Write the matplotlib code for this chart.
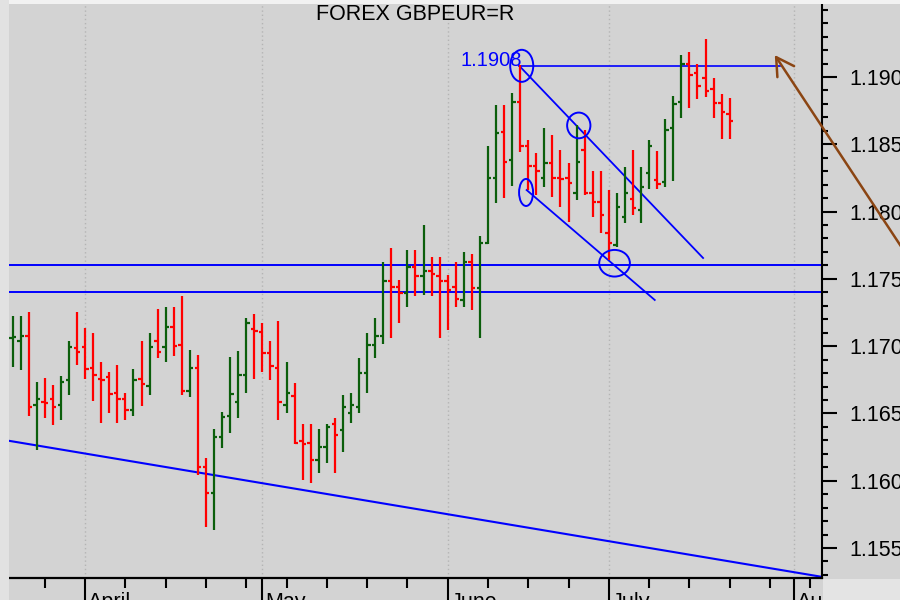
import numpy as np
import pandas as pd
import matplotlib
matplotlib.use('Agg')
import matplotlib.pyplot as plt
from matplotlib.patches import Ellipse, FancyArrowPatch, Rectangle, ArrowStyle
from matplotlib.transforms import Bbox, blended_transform_factory, ScaledTranslation

plt.rcParams['font.family'] = ['Liberation Sans', 'DejaVu Sans']

# ---------------- data ----------------
title = 'FOREX GBPEUR=R'
start_date = '2024-03-19'

opens = [1.17063, 1.17038, 1.17078, 1.16563, 1.16587, 1.16605, 1.16563, 1.16749, 1.16984, 1.16996,
         1.16840, 1.16758, 1.16773, 1.16654, 1.16605, 1.16526, 1.16758, 1.16706, 1.17038, 1.16996,
         1.17145, 1.17011, 1.16667, 1.16840, 1.16100, 1.15907, 1.16327, 1.16481, 1.16587, 1.16786,
         1.17128, 1.17108, 1.16947, 1.16840, 1.16563, 1.16630, 1.16298, 1.16283, 1.16154, 1.16249,
         1.16422, 1.16377, 1.16501, 1.16550, 1.16798, 1.17009, 1.17076, 1.17484, 1.17440, 1.17393,
         1.17590, 1.17521, 1.17561, 1.17521, 1.17486, 1.17442, 1.17343, 1.17628, 1.17430, 1.17764,
         1.18247, 1.18594, 1.18383, 1.18816, 1.18487, 1.18339, 1.18247, 1.18359, 1.18247, 1.18247,
         1.18136, 1.18458, 1.18140, 1.18073, 1.17839, 1.17752, 1.17962, 1.18091, 1.18012, 1.18289,
         1.18235, 1.18222, 1.18619, 1.18816, 1.19094, 1.19027, 1.18990, 1.18908, 1.18804, 1.18725]
highs = [1.17224, 1.17224, 1.17252, 1.16736, 1.16761, 1.16711, 1.16778, 1.17041, 1.17252, 1.17133,
         1.17096, 1.16882, 1.16808, 1.16858, 1.16650, 1.16828, 1.17041, 1.17096, 1.17278, 1.17289,
         1.17289, 1.17373, 1.16972, 1.16934, 1.16171, 1.16382, 1.16513, 1.16922, 1.16964, 1.17211,
         1.17239, 1.17174, 1.17041, 1.17187, 1.16882, 1.16724, 1.16422, 1.16422, 1.16382, 1.16422,
         1.16464, 1.16637, 1.16650, 1.16910, 1.17096, 1.17211, 1.17623, 1.17727, 1.17492, 1.17715,
         1.17715, 1.17900, 1.17660, 1.17660, 1.17529, 1.17623, 1.17697, 1.17685, 1.17819, 1.18487,
         1.18792, 1.18792, 1.18879, 1.19089, 1.18532, 1.18437, 1.18619, 1.18569, 1.18458, 1.18359,
         1.18643, 1.18606, 1.18304, 1.18304, 1.18160, 1.18136, 1.18333, 1.18458, 1.18333, 1.18532,
         1.18452, 1.18686, 1.18859, 1.19163, 1.19188, 1.19094, 1.19280, 1.18990, 1.18874, 1.18846]
lows = [1.16847, 1.16823, 1.16481, 1.16229, 1.16464, 1.16414, 1.16451, 1.16637, 1.16860, 1.16754,
        1.16595, 1.16427, 1.16506, 1.16427, 1.16451, 1.16481, 1.16555, 1.16637, 1.16914, 1.16885,
        1.16927, 1.16637, 1.16625, 1.16043, 1.15659, 1.15634, 1.16241, 1.16357, 1.16464, 1.16650,
        1.16754, 1.16810, 1.16749, 1.16451, 1.16506, 1.16273, 1.16006, 1.15981, 1.16055, 1.16134,
        1.16055, 1.16216, 1.16427, 1.16501, 1.16650, 1.16910, 1.17016, 1.17058, 1.17174, 1.17293,
        1.17373, 1.17380, 1.17373, 1.17058, 1.17120, 1.17293, 1.17293, 1.17269, 1.17058, 1.17760,
        1.18062, 1.18099, 1.18190, 1.18445, 1.18160, 1.18123, 1.18185, 1.18111, 1.18036, 1.17925,
        1.18086, 1.18123, 1.17962, 1.17839, 1.17640, 1.17739, 1.17913, 1.17975, 1.17913, 1.18166,
        1.18166, 1.18180, 1.18229, 1.18693, 1.18772, 1.18836, 1.18849, 1.18693, 1.18537, 1.18537]
closes = [1.17070, 1.17078, 1.16550, 1.16605, 1.16581, 1.16550, 1.16736, 1.16996, 1.16959, 1.16828,
          1.16786, 1.16749, 1.16642, 1.16605, 1.16526, 1.16749, 1.16719, 1.16996, 1.16959, 1.17145,
          1.17001, 1.16667, 1.16840, 1.16100, 1.15907, 1.16327, 1.16471, 1.16642, 1.16786, 1.17170,
          1.17115, 1.16947, 1.16853, 1.16587, 1.16654, 1.16283, 1.16273, 1.16154, 1.16249, 1.16402,
          1.16340, 1.16550, 1.16563, 1.16798, 1.17009, 1.17076, 1.17484, 1.17440, 1.17393, 1.17590,
          1.17521, 1.17561, 1.17536, 1.17486, 1.17417, 1.17353, 1.17628, 1.17430, 1.17764, 1.18247,
          1.18582, 1.18371, 1.18816, 1.18487, 1.18339, 1.18304, 1.18359, 1.18247, 1.18240, 1.18210,
          1.18371, 1.18140, 1.18073, 1.17975, 1.17764, 1.18036, 1.18136, 1.18024, 1.18185, 1.18487,
          1.18205, 1.18606, 1.18799, 1.19094, 1.19015, 1.18935, 1.18896, 1.18804, 1.18738, 1.18673]

month_labels = ['April', 'May', 'June', 'July', 'August']
month_starts = ['2024-04-01', '2024-05-01', '2024-06-01', '2024-07-01', '2024-08-01']
support_levels = [1.1760, 1.1740]
resistance_level = 1.1908
resistance_label = '1.1908'
trend_pts = [(0, 1.16292), (100, 1.15290)]
channel_upper = [(62.9, 1.19082), (85.7, 1.17655)]
channel_lower = [(63.8, 1.18160), (79.7, 1.17343)]
resistance_span = (62.9, 95.2)
# ellipses: (x center, y center, width in bars, height in price)
marks = [(63.19, 1.19083, 2.86, 0.00238),
         (70.27, 1.18640, 2.89, 0.00191),
         (63.73, 1.18142, 1.74, 0.00201),
         (74.71, 1.17616, 3.81, 0.00198)]
arrow_tip = (94.6, 1.19163)
arrow_tail = (117.6, 1.17076)
y_major = [1.155, 1.160, 1.165, 1.170, 1.175, 1.180, 1.185, 1.190]
y_minor = [round(1.153 + 0.001 * k, 3) for k in range(43)]

# ---------------- figure ----------------
GREEN = '#0b5e0b'
RED = '#ff0000'
BLUE = '#0000ff'
BG = '#d3d3d3'

fig = plt.figure(figsize=(9, 6), dpi=100, facecolor=BG)
fig.patches.append(Rectangle((0, 596 / 600), 1, 4 / 600, transform=fig.transFigure,
                             facecolor='#f2f2f2', edgecolor='none', zorder=0))
fig.patches.append(Rectangle((0, 0), 9 / 900, 1, transform=fig.transFigure,
                             facecolor='#e2e2e2', edgecolor='none', zorder=0))
fig.patches.append(Rectangle((823 / 900, 0), 77 / 900, 21 / 600, transform=fig.transFigure,
                             facecolor='#e4e4e4', edgecolor='none', zorder=0))

ax = fig.add_axes([9 / 900, 22 / 600, 813 / 900, 573 / 600])
ax.set_facecolor(BG)
ax.set_xlim(-0.45, 100.46)
ax.set_ylim(1.15277, 1.19535)

o = np.array(opens); h = np.array(highs); l = np.array(lows); c = np.array(closes)
n = len(o)
idx = np.arange(n)
cols = np.where(c >= o, GREEN, RED)

days = pd.bdate_range(start_date, periods=110)
month_pos = [int(np.searchsorted(days, pd.Timestamp(m))) for m in month_starts]
monday_pos = [i for i, d in enumerate(days) if d.dayofweek == 0 and i not in month_pos
              and i < 101]

# month grid
for p in month_pos:
    ax.axvline(p, color='#b4b4b4', ls=(0, (1, 2)), lw=1.0, zorder=1)

# lines
for lev in support_levels:
    ax.axhline(lev, color=BLUE, lw=1.4, zorder=2)
ax.axline(trend_pts[0], trend_pts[1], color=BLUE, lw=1.5, zorder=2)
ax.plot([resistance_span[0], resistance_span[1]], [resistance_level, resistance_level],
        color=BLUE, lw=1.2, zorder=2)
ax.plot([p[0] for p in channel_upper], [p[1] for p in channel_upper], color=BLUE, lw=1.3, zorder=2)
ax.plot([p[0] for p in channel_lower], [p[1] for p in channel_lower], color=BLUE, lw=1.3, zorder=2)
for (ex, ey, ew, eh) in marks:
    ax.add_patch(Ellipse((ex, ey), ew, eh, fill=False, edgecolor=BLUE, lw=1.4, zorder=4))
ax.text(resistance_span[0] + 0.3, resistance_level, resistance_label, color=BLUE,
        fontsize=14.5, ha='right', va='baseline', zorder=5)

# OHLC bars
ax.vlines(idx, l, h, colors=cols, lw=1.6, zorder=3)
ax.hlines(o, idx - 0.42, idx, colors=cols, lw=1.6, zorder=3)
ax.hlines(c, idx, idx + 0.42, colors=cols, lw=1.6, zorder=3)

# arrow
arr = FancyArrowPatch(posA=arrow_tail, posB=arrow_tip,
                      arrowstyle=ArrowStyle('->', head_length=12.5, head_width=7.2),
                      mutation_scale=1, lw=1.8, color='#8b4513', shrinkA=0, shrinkB=0,
                      clip_on=False, zorder=6)
ax.add_patch(arr)

# spines and ticks
for s in ['top', 'left']:
    ax.spines[s].set_visible(False)
ax.spines['right'].set_linewidth(1.5)
ax.spines['bottom'].set_linewidth(1.6)

ax.yaxis.tick_right()
ax.set_yticks(y_major)
ax.set_yticklabels(['%.3f' % v for v in y_major])
ax.set_yticks([v for v in y_minor if v not in y_major], minor=True)
ax.tick_params(axis='y', which='major', direction='out', length=10.8, width=1.5,
               pad=9.0, labelsize=15.5, right=True, left=False)
ax.tick_params(axis='y', which='minor', direction='out', length=4.5, width=1.5,
               right=True, left=False)

ax.set_xticks(month_pos)
ax.set_xticklabels([])
ax.set_xticks(monday_pos, minor=True)
ax.tick_params(axis='x', which='major', direction='out', length=18, width=1.5, top=False)
ax.tick_params(axis='x', which='minor', direction='out', length=7, width=1.5, top=False)

trans = blended_transform_factory(ax.transData, ax.transAxes)
clipbox = Bbox.from_extents(0, 0, 822, 600)
for p, lab in zip(month_pos, month_labels):
    t = ax.text(p, 0, lab, transform=trans + ScaledTranslation(3 / 100, -14 / 100, fig.dpi_scale_trans),
                ha='left', va='top', fontsize=15.5, color='black', clip_on=True)
    t.set_clip_box(clipbox)

fig.text(415 / 900, 1 - 14.5 / 600, title, ha='center', va='center', fontsize=15.5, color='black')

fig.savefig('out.png', dpi=100, facecolor=fig.get_facecolor())
